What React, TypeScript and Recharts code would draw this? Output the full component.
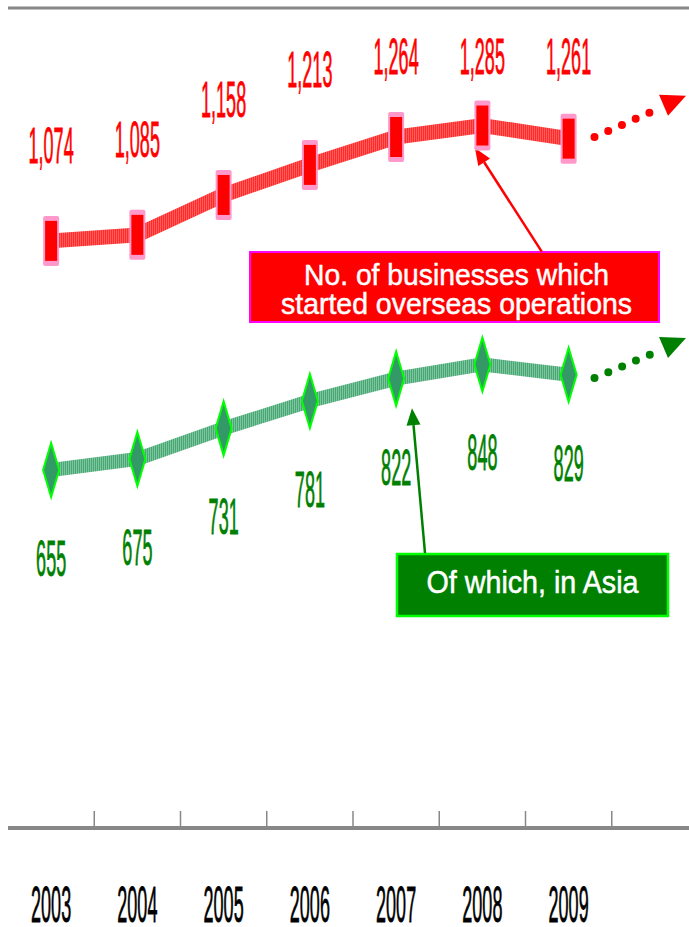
import { LineChart, Line, XAxis, YAxis, ReferenceLine, ReferenceArea } from 'recharts';

const years = ['2003', '2004', '2005', '2006', '2007', '2008', '2009'];
const startedOverseas = [1074, 1085, 1158, 1213, 1264, 1285, 1261];
const inAsia = [655, 675, 731, 781, 822, 848, 829];
// labels on whole numbers, small tick marks on the halves between years
const xTicks = [0, 0.5, 1, 1.5, 2, 2.5, 3, 3.5, 4, 4.5, 5, 5.5, 6, 6.5];

// dotted "continuing" arrows after 2009
const totalTrend = [{ x: 6.3, v: 1264 }, { x: 6.99, v: 1312 }];
const asiaTrend = [{ x: 6.3, v: 823 }, { x: 6.99, v: 869 }];

const data = years.map((year, i) => ({ x: i, year, total: startedOverseas[i], asia: inAsia[i] }));

const FONT = '"Liberation Sans", Arial, sans-serif';

const NarrowText = ({ x, y, fill, children }: any) => (
  <text
    transform={`translate(${x},${y}) scale(0.36,1)`}
    textAnchor="middle"
    fontSize={50}
    fontFamily={FONT}
    fill={fill}
    stroke={fill}
    strokeWidth={0.8}
  >
    {children}
  </text>
);

const YearTick = (props: any) => {
  const { x, y, payload } = props;
  const v = payload.value;
  if (!Number.isInteger(v)) {
    return <line x1={x} x2={x} y1={y - 17} y2={y - 2} stroke="#888" strokeWidth={1.5} />;
  }
  return <NarrowText x={x} y={y + 94} fill="#000">{years[v]}</NarrowText>;
};

const TotalDot = (props: any) => {
  const { cx, cy, payload, index } = props;
  return (
    <g key={`t${index}`}>
      <rect x={cx - 8} y={cy - 25} width={16} height={50} rx={2} fill="#ff99cc" />
      <rect x={cx - 6} y={cy - 20} width={12} height={40} fill="#ff0000" />
      <NarrowText x={cx} y={Math.max(cy - 78, 74)} fill="#ff0000">
        {payload.total.toLocaleString('en-US')}
      </NarrowText>
    </g>
  );
};

const AsiaDot = (props: any) => {
  const { cx, cy, payload, index } = props;
  return (
    <g key={`a${index}`}>
      <polygon
        points={`${cx},${cy - 27} ${cx + 8},${cy} ${cx},${cy + 27} ${cx - 8},${cy}`}
        fill="#339966"
        stroke="#00ff00"
        strokeWidth={2}
      />
      <NarrowText x={cx} y={cy + 106} fill="#008000">{payload.asia}</NarrowText>
    </g>
  );
};

const trendHead = (color: string) => (props: any) => {
  const { cx, cy, index } = props;
  if (index !== 1) return <g key={`h${index}`} />;
  return (
    <polygon
      key={`h${index}`}
      points={`${cx + 5},${cy - 16} ${cx + 32},${cy - 15} ${cx + 14},${cy + 5}`}
      fill={color}
    />
  );
};

const arrowShape = (color: string) => (p: any) => {
  const { x1, y1, x2, y2 } = p;
  const ang = Math.atan2(y2 - y1, x2 - x1);
  const len = 17;
  const half = 7;
  const bx = x2 - len * Math.cos(ang);
  const by = y2 - len * Math.sin(ang);
  const px = -Math.sin(ang) * half;
  const py = Math.cos(ang) * half;
  return (
    <g>
      <line x1={x1} y1={y1} x2={bx} y2={by} stroke={color} strokeWidth={2.5} />
      <polygon points={`${x2},${y2} ${bx + px},${by + py} ${bx - px},${by - py}`} fill={color} />
    </g>
  );
};

const totalBox = (p: any) => (
  <g>
    <rect x={p.x} y={p.y} width={p.width} height={p.height} fill="#ff0000" stroke="#ff00ff" strokeWidth={2} />
    <text x={p.x + p.width / 2 + 2} y={p.y + 33} textAnchor="middle" fontSize={30} fontFamily={FONT} fill="#fff"
      stroke="#fff" strokeWidth={0.5} textLength={305} lengthAdjust="spacingAndGlyphs">
      No. of businesses which
    </text>
    <text x={p.x + p.width / 2 + 2} y={p.y + 62} textAnchor="middle" fontSize={30} fontFamily={FONT} fill="#fff"
      stroke="#fff" strokeWidth={0.5} textLength={351} lengthAdjust="spacingAndGlyphs">
      started overseas operations
    </text>
  </g>
);

const asiaBox = (p: any) => (
  <g>
    <rect x={p.x} y={p.y} width={p.width} height={p.height} fill="#008000" stroke="#00ff00" strokeWidth={2.5} />
    <text x={p.x + p.width / 2} y={p.y + 39} textAnchor="middle" fontSize={31} fontFamily={FONT} fill="#fff"
      stroke="#fff" strokeWidth={0.5} textLength={212} lengthAdjust="spacingAndGlyphs">
      Of which, in Asia
    </text>
  </g>
);

export default function App() {
  return (
    <div style={{ position: 'absolute', left: 0, top: 0, width: 689, height: 927, overflow: 'hidden', background: '#fff' }}>
      <LineChart width={698} height={927} data={data} margin={{ top: 8, right: 0, left: 8, bottom: 0 }}>
        <defs>
          <pattern id="redHatch" width="2" height="2" patternUnits="userSpaceOnUse">
            <rect width="2" height="2" fill="#ff2a2a" />
            <rect width="1" height="2" fill="#ff5c5c" />
          </pattern>
          <pattern id="greenHatch" width="2" height="2" patternUnits="userSpaceOnUse">
            <rect width="2" height="2" fill="#48a775" />
            <rect width="1" height="2" fill="#7cc59d" />
          </pattern>
        </defs>
        <XAxis
          dataKey="x"
          type="number"
          domain={[-0.5, 7.5]}
          ticks={xTicks}
          interval={0}
          height={99}
          tickSize={0}
          tickMargin={0}
          tickLine={false}
          axisLine={{ stroke: '#888', strokeWidth: 4 }}
          tick={YearTick}
        />
        <YAxis
          type="number"
          domain={[0, 1500]}
          allowDataOverflow
          width={0}
          tick={false}
          tickLine={false}
          axisLine={{ stroke: '#999', strokeWidth: 2 }}
        />
        <ReferenceLine y={1500} stroke="#888" strokeWidth={3} />

        <ReferenceArea x1={2.306} x2={7.048} y1={925.6} y2={1053.6} ifOverflow="visible" shape={totalBox} />
        <ReferenceArea x1={4.01} x2={7.152} y1={387.8} y2={501.2} ifOverflow="visible" shape={asiaBox} />
        <ReferenceLine
          segment={[{ x: 5.69, y: 1054 }, { x: 4.914, y: 1244 }]}
          ifOverflow="visible"
          shape={arrowShape('#ff0000')}
        />
        <ReferenceLine
          segment={[{ x: 4.335, y: 503 }, { x: 4.184, y: 768 }]}
          ifOverflow="visible"
          shape={arrowShape('#008000')}
        />

        <Line
          data={totalTrend}
          dataKey="v"
          type="linear"
          stroke="#ff0000"
          strokeWidth={8}
          strokeDasharray="0 15"
          strokeLinecap="round"
          dot={trendHead('#ff0000')}
          activeDot={false}
          isAnimationActive={false}
        />
        <Line
          data={asiaTrend}
          dataKey="v"
          type="linear"
          stroke="#008000"
          strokeWidth={8}
          strokeDasharray="0 15"
          strokeLinecap="round"
          dot={trendHead('#008000')}
          activeDot={false}
          isAnimationActive={false}
        />
        <Line
          dataKey="asia"
          type="linear"
          stroke="url(#greenHatch)"
          strokeWidth={14}
          dot={AsiaDot}
          activeDot={false}
          isAnimationActive={false}
        />
        <Line
          dataKey="total"
          type="linear"
          stroke="url(#redHatch)"
          strokeWidth={15}
          dot={TotalDot}
          activeDot={false}
          isAnimationActive={false}
        />
      </LineChart>
    </div>
  );
}
